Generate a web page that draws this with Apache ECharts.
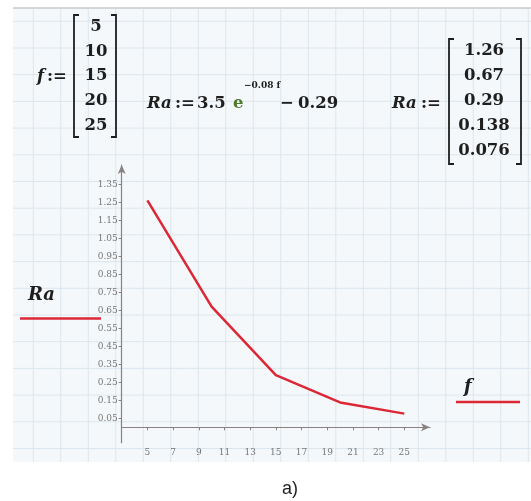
<!DOCTYPE html>
<html><head><meta charset="utf-8">
<script src="https://cdn.jsdelivr.net/npm/echarts@6.0.0/dist/echarts.min.js"></script>
<style>html,body{margin:0;padding:0;background:#fff}#c{width:531px;height:501px}</style>
</head><body><div id="c"></div>
<script>
// ---- data ----
const fValues = [5, 10, 15, 20, 25];
const raValues = [1.26, 0.67, 0.29, 0.138, 0.076];
const xTickValues = [5, 7, 9, 11, 13, 15, 17, 19, 21, 23, 25];
const yTickValues = [0.05, 0.15, 0.25, 0.35, 0.45, 0.55, 0.65, 0.75, 0.85, 0.95, 1.05, 1.15, 1.25, 1.35];
const raDisplay = ['1.26', '0.67', '0.29', '0.138', '0.076'];
const formulaCoef = '3.5';
const formulaExp = '\u22120.08 f';
const formulaOffset = '0.29';
const yName = 'Ra';
const xName = 'f';
const caption = 'a)';

// ---- styling ----
const SERIF = '"DejaVu Serif", "Liberation Serif", serif';
const INK = '#1e1e1e';
const RED = '#dc2836';
const AXIS = '#8a8282';

const chart = echarts.init(document.getElementById('c'), null, { renderer: 'canvas' });
const g = [];

// paper background with grid
g.push({ type: 'rect', silent: true, z: -20, shape: { x: 13, y: 8, width: 518, height: 454 }, style: { fill: '#f5f8fa' } });
for (let x = 33.3; x < 531; x += 27.5) {
  g.push({ type: 'line', silent: true, z: -19, shape: { x1: x, y1: 9, x2: x, y2: 462 }, style: { stroke: '#dce6ee', lineWidth: 1 } });
}
for (let y = 21.3; y < 462; y += 26.7) {
  g.push({ type: 'line', silent: true, z: -19, shape: { x1: 13, y1: y, x2: 531, y2: y }, style: { stroke: '#dce6ee', lineWidth: 1 } });
}
g.push({ type: 'line', silent: true, z: -18, shape: { x1: 13, y1: 8, x2: 531, y2: 8 }, style: { stroke: '#c8c8c8', lineWidth: 1.5 } });

function txt(text, x, y, size, opts) {
  opts = opts || {};
  const pre = opts.style ? opts.style + ' ' : '';
  g.push({ type: 'text', x: x, y: y, z: 10, style: {
    text: text,
    font: pre + size + 'px ' + (opts.family || SERIF),
    fill: opts.fill || INK,
    textAlign: opts.align || 'left',
    textVerticalAlign: 'middle'
  } });
}
function brackets(xl, xr, yt, yb) {
  const s = 5;
  g.push({ type: 'polyline', z: 10, shape: { points: [[xl + s, yt], [xl, yt], [xl, yb], [xl + s, yb]] }, style: { stroke: INK, lineWidth: 1.8, fill: null } });
  g.push({ type: 'polyline', z: 10, shape: { points: [[xr - s, yt], [xr, yt], [xr, yb], [xr - s, yb]] }, style: { stroke: INK, lineWidth: 1.8, fill: null } });
}
const FS = 16.5;

// f := matrix
txt('f', 37, 77, FS, { style: 'italic bold' });
txt(':=', 47, 77, FS, { style: 'bold' });
brackets(74, 116, 15, 137);
fValues.forEach((v, i) => txt(String(v), 96, 27 + i * 24.6, FS, { align: 'center', style: 'bold' }));

// Ra := formula
txt('Ra', 147, 104, FS, { style: 'italic bold' });
txt(':=', 175, 104, FS, { style: 'bold' });
txt(formulaCoef, 197, 104, FS, { style: 'bold' });
txt('e', 233, 104, FS, { fill: '#4d7a2c', style: 'bold' });
txt(formulaExp, 244, 86, 9, { style: 'bold' });
txt('\u2212', 280, 104, FS, { style: 'bold' });
txt(formulaOffset, 298, 104, FS, { style: 'bold' });

// Ra := matrix
txt('Ra', 392, 104, FS, { style: 'italic bold' });
txt(':=', 421, 104, FS, { style: 'bold' });
brackets(449, 521, 39, 164);
raDisplay.forEach((s, i) => txt(s, 484, 51 + i * 25, FS, { align: 'center', style: 'bold' }));

// axis legends
txt(yName, 28, 295, 18, { style: 'italic bold' });
g.push({ type: 'line', z: 10, shape: { x1: 20, y1: 318.5, x2: 101, y2: 318.5 }, style: { stroke: RED, lineWidth: 2.5 } });
txt(xName, 464, 387, 18, { style: 'italic bold' });
g.push({ type: 'line', z: 10, shape: { x1: 456, y1: 402, x2: 520, y2: 402 }, style: { stroke: RED, lineWidth: 2.5 } });

// caption
txt(caption, 282, 489, 18, { family: '"Liberation Sans", Arial, sans-serif' });

const labelStyle = { fontFamily: SERIF, fontSize: 9, color: '#777' };

chart.setOption({
  animation: false,
  grid: { left: 121.7, right: 101, top: 165, bottom: 58.3, containLabel: false },
  xAxis: {
    type: 'value', min: 3, max: 27,
    axisLine: { show: true, symbol: ['none', 'arrow'], symbolSize: [6, 9], lineStyle: { color: AXIS, width: 1.2 } },
    axisTick: { show: true, customValues: xTickValues, length: 3, lineStyle: { color: AXIS } },
    axisLabel: Object.assign({ customValues: xTickValues, margin: 5 }, labelStyle),
    splitLine: { show: false }
  },
  yAxis: {
    type: 'value', min: -0.0856, max: 1.457,
    axisLine: { show: true, symbol: ['none', 'arrow'], symbolSize: [6, 9], lineStyle: { color: AXIS, width: 1.2 } },
    axisTick: { show: true, customValues: yTickValues, length: 3, lineStyle: { color: AXIS } },
    axisLabel: Object.assign({ customValues: yTickValues, margin: 4, formatter: v => v.toFixed(2) }, labelStyle),
    splitLine: { show: false }
  },
  series: [{
    type: 'line',
    data: fValues.map((f, i) => [f, raValues[i]]),
    symbol: 'none',
    lineStyle: { color: RED, width: 2.5 },
    z: 5
  }],
  graphic: { elements: g }
});
</script></body></html>
